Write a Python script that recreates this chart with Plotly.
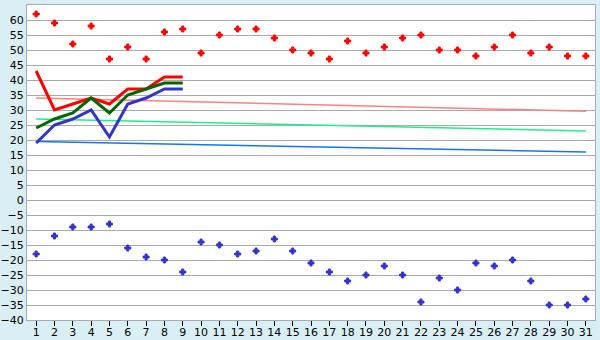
import plotly.graph_objects as go

days = list(range(1, 32))
day_labels = [str(d) for d in days]

rec_max = [62, 59, 52, 58, 47, 51, 47, 56, 57, 49, 55, 57, 57, 54, 50, 49, 47, 53, 49, 51,
           54, 55, 50, 50, 48, 51, 55, 49, 51, 48, 48]
rec_min = [-18, -12, -9, -9, -8, -16, -19, -20, -24, -14, -15, -18, -17, -13, -17, -21, -24,
           -27, -25, -22, -25, -34, -26, -30, -21, -22, -20, -27, -35, -35, -33]

obs_days = [1, 2, 3, 4, 5, 6, 7, 8, 9]
obs_max = [43, 30, 32, 34, 32, 37, 37, 41, 41]
obs_mean = [24, 27, 29, 34, 29, 35, 37, 39, 39]
obs_min = [19, 25, 27, 30, 21, 32, 34, 37, 37]

norm_days = [1, 31]
norm_max = [34.0, 29.6]
norm_mean = [27.0, 23.0]
norm_min = [19.5, 16.0]

fig = go.Figure()

fig.add_trace(go.Scatter(x=norm_days, y=norm_max, mode="lines",
                         line=dict(color="#ff8080", width=1.5), hoverinfo="skip"))
fig.add_trace(go.Scatter(x=norm_days, y=norm_mean, mode="lines",
                         line=dict(color="#22ee88", width=1.5), hoverinfo="skip"))
fig.add_trace(go.Scatter(x=norm_days, y=norm_min, mode="lines",
                         line=dict(color="#1177ee", width=1.5), hoverinfo="skip"))

fig.add_trace(go.Scatter(x=days, y=rec_max, mode="markers",
                         marker=dict(color="#ff0000", symbol="cross", size=5,
                                     line=dict(width=1, color="#ff0000"))))
fig.add_trace(go.Scatter(x=days, y=rec_min, mode="markers",
                         marker=dict(color="#3333cc", symbol="cross", size=5,
                                     line=dict(width=1, color="#3333cc"))))

fig.add_trace(go.Scatter(x=obs_days, y=obs_max, mode="lines",
                         line=dict(color="#ff0000", width=3)))
fig.add_trace(go.Scatter(x=obs_days, y=obs_mean, mode="lines",
                         line=dict(color="#006600", width=3)))
fig.add_trace(go.Scatter(x=obs_days, y=obs_min, mode="lines",
                         line=dict(color="#3333cc", width=3)))

fig.update_layout(
    width=600, height=340,
    margin=dict(l=27, r=5, t=5, b=20),
    paper_bgcolor="#d9eff5",
    plot_bgcolor="#ffffff",
    showlegend=False,
    font=dict(family="DejaVu Sans", size=11, color="#000000"),
    xaxis=dict(range=[0.5, 31.5], tickmode="array", tickvals=days, ticktext=day_labels,
               showgrid=False, zeroline=False, ticks="outside", ticklen=5,
               tickcolor="#000000", showline=True, linecolor="#aaaaaa", linewidth=1,
               mirror=True, tickfont=dict(size=11), automargin=False,
               ticklabelstandoff=-3),
    yaxis=dict(range=[-40, 65], dtick=5, tick0=0, showgrid=True, gridcolor="#aaaaaa",
               gridwidth=1, zeroline=False, showline=True, linecolor="#aaaaaa",
               linewidth=1, mirror=True, ticks="", tickfont=dict(size=11),
               automargin=False),
)

fig.write_html("out.html")
